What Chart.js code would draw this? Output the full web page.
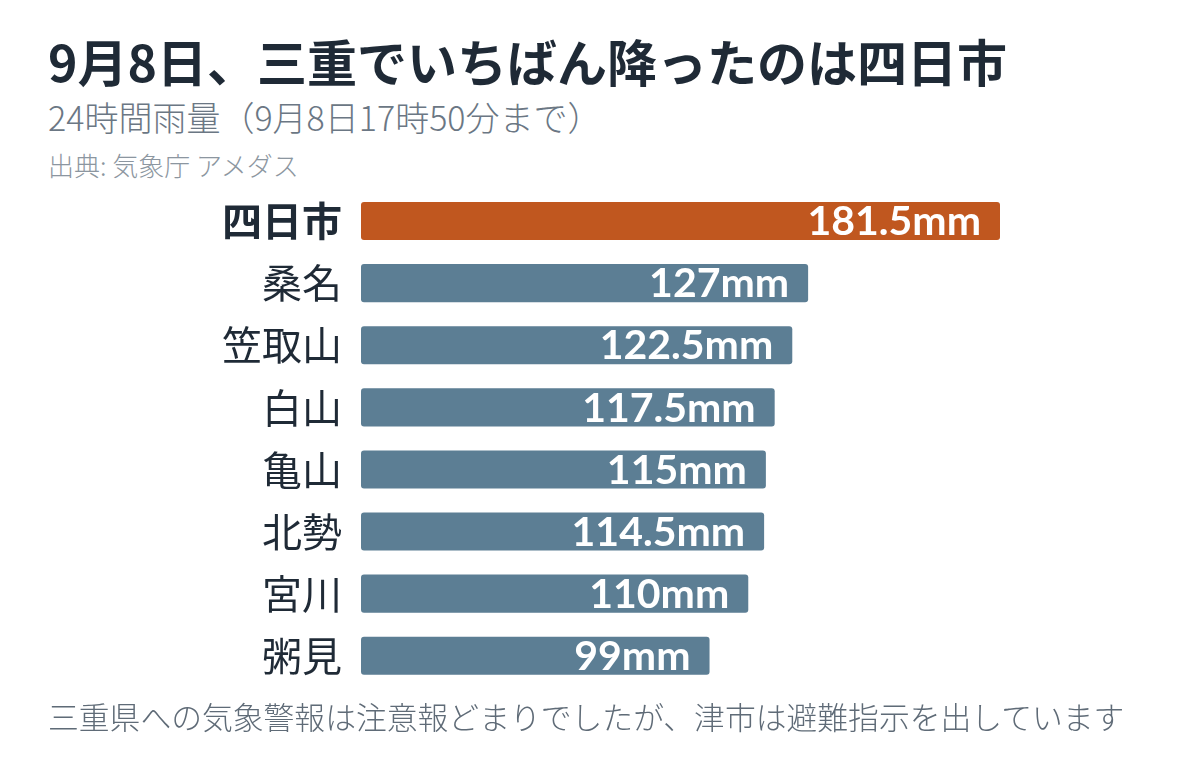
<!DOCTYPE html>
<html><head><meta charset="utf-8">
<script src="https://cdn.jsdelivr.net/npm/chart.js@4"></script>
<style>
html,body{margin:0;padding:0;background:#fff;width:1200px;height:762px;overflow:hidden;font-family:"Noto Sans CJK JP","Noto Sans",sans-serif;}
.t{position:absolute;left:48px;white-space:nowrap;line-height:1;}
#title{top:35px;font-size:50px;font-weight:700;color:#1f2a36;}
#sub{top:100px;font-size:34px;font-weight:300;color:#6b7784;}
#src{top:152px;font-size:26px;font-weight:300;color:#8c96a0;}
#foot{top:701px;font-size:30.8px;font-weight:300;color:#5f6b77;}
#wrap{position:absolute;left:0;top:154.6px;width:1200px;height:566.8px;}
</style></head>
<body>
<div class="t" id="title">9月8日、三重でいちばん降ったのは四日市</div>
<div class="t" id="sub">24時間雨量（9月8日17時50分まで）</div>
<div class="t" id="src">出典: 気象庁 アメダス</div>
<div id="wrap"><canvas id="c"></canvas></div>
<div class="t" id="foot">三重県への気象警報は注意報どまりでしたが、津市は避難指示を出しています</div>
<script>
const stations = ["四日市","桑名","笠取山","白山","亀山","北勢","宮川","粥見"];
const rainfall = [181.5,127,122.5,117.5,115,114.5,110,99];
const valueLabels = ["181.5mm","127mm","122.5mm","117.5mm","115mm","114.5mm","110mm","99mm"];
const highlightColor = "#c0571f";
const baseColor = "#5c7e94";

const valuePlugin = {
  id:'valueLabels',
  afterDatasetsDraw(chart){
    const ctx = chart.ctx;
    const meta = chart.getDatasetMeta(0);
    ctx.save();
    ctx.fillStyle = '#ffffff';
    ctx.font = '700 41px Lato, "Noto Sans", sans-serif';
    ctx.textAlign = 'right';
    ctx.textBaseline = 'middle';
    meta.data.forEach((bar,i)=>{
      ctx.fillText(valueLabels[i], bar.x - 19, bar.y + 1);
    });
    ctx.restore();
  }
};

new Chart(document.getElementById('c'),{
  type:'bar',
  data:{labels:stations,datasets:[{
    data:rainfall,
    backgroundColor:rainfall.map((v,i)=>i===0?highlightColor:baseColor),
    borderRadius:3,
    borderSkipped:false,
    barPercentage:0.613,
    categoryPercentage:1.0
  }]},
  options:{
    indexAxis:'y',
    responsive:true,
    maintainAspectRatio:false,
    animation:false,
    layout:{padding:{left:0,right:200,top:0,bottom:0}},
    plugins:{legend:{display:false},tooltip:{enabled:false}},
    scales:{
      x:{display:false,min:0,max:181.5},
      y:{
        grid:{display:false},
        border:{display:false},
        afterFit(scale){scale.width=361;},
        ticks:{
          padding:11,
          color:'#1f2a36',
          font:(c)=>({family:'"Noto Sans CJK JP", sans-serif',size:40,weight:c.index===0?'700':'400'})
        }
      }
    }
  },
  plugins:[valuePlugin]
});
</script>
</body></html>
